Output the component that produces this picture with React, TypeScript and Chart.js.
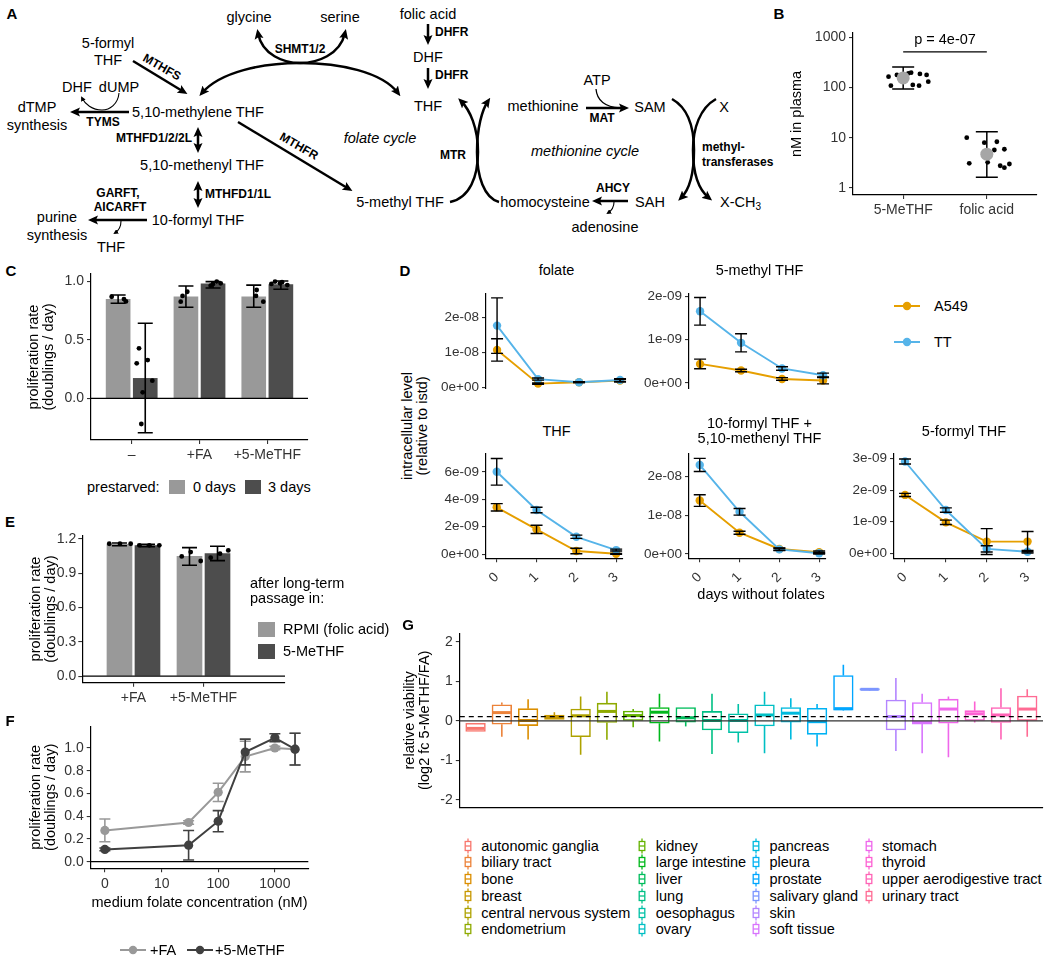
import React, { useEffect, useRef } from "react";
import { Chart, registerables } from "chart.js";

Chart.register(...registerables);

const FONT = "'Liberation Sans', Arial, Helvetica, sans-serif";
Chart.defaults.font.family = FONT;

/* ======================= DATA ======================= */
// Panel B
const bGroups = ["5-MeTHF", "folic acid"];
const bMeTHFValues = [163, 177, 190, 196, 185, 177, 108, 112, 108, 130];
const bMeTHFJitter = [-0.175, -0.075, 0.063, 0.095, 0.2, 0.28, -0.147, 0.115, 0.19, 0.3];
const bFolicValues = [10.0, 7.95, 8.3, 5.7, 5.9, 3.1, 3.24, 2.77, 2.54, 3.0];
const bFolicJitter = [-0.24, -0.03, 0.12, 0.09, 0.21, -0.21, 0.01, 0.16, 0.21, 0.27];
const bMean = [154, 4.7];
const bLower = [93, 1.63];
const bUpper = [254, 13.2];
const bYTicks = [1, 10, 100, 1000];
const bPLabel = "p = 4e-07";
const bSigLevel = 506;

// Panel C
const cGroups = ["\u2013", "+FA", "+5-MeTHF"];
const c0Mean = [0.848, 0.87, 0.87];
const c0Lower = [0.815, 0.78, 0.78];
const c0Upper = [0.885, 0.962, 0.97];
const c3Mean = [0.171, 0.98, 0.975];
const c3Lower = [-0.295, 0.945, 0.935];
const c3Upper = [0.643, 1.0, 1.005];
const c0PtGroup = [0, 0, 0, 1, 1, 1, 2, 2, 2];
const c0PtJitter = [-0.295, -0.114, -0.085, -0.25, -0.18, -0.277, -0.157, -0.167, -0.059];
const c0PtValue = [0.87, 0.85, 0.83, 0.877, 0.913, 0.828, 0.928, 0.877, 0.828];
const c3PtGroup = [0, 0, 0, 0, 0, 0, 1, 1, 1, 1, 2, 2, 2, 2, 2];
const c3PtJitter = [0.108, 0.074, 0.236, 0.304, 0.162, 0.142, 0.199, 0.254, 0.313, 0.165, 0.06, 0.114, 0.187, 0.295, 0.217];
const c3PtValue = [0.428, 0.3, 0.328, 0.151, 0.051, -0.22, 0.98, 1.0, 0.985, 0.965, 0.98, 1.0, 0.985, 0.97, 0.995];
const cYTicks = [0, 0.5, 1];

// Panel E
const eGroups = ["+FA", "+5-MeTHF"];
const eRpmiMean = [1.152, 1.046];
const eRpmiSd = [0.012, 0.077];
const eMeMean = [1.142, 1.072];
const eMeSd = [0.01, 0.063];
const eRpmiPtGroup = [0, 0, 0, 1, 1, 1];
const eRpmiPtJitter = [-0.346, -0.193, -0.04, -0.311, -0.183, -0.04];
const eRpmiPtValue = [1.157, 1.157, 1.157, 1.046, 1.084, 1.006];
const eMePtGroup = [0, 0, 0, 1, 1, 1];
const eMePtJitter = [0.083, 0.226, 0.369, 0.103, 0.236, 0.354];
const eMePtValue = [1.143, 1.143, 1.143, 1.035, 1.07, 1.099];
const eYTicks = [0, 0.3, 0.6, 0.9, 1.2];

// Panel F
const fConc = [0, 30, 100, 300, 1000, 2270];
const fFaMean = [0.275, 0.345, 0.61, 0.925, 1.0, 0.99];
const fFaSd = [0.1, 0.015, 0.08, 0.135, 0.015, 0.14];
const fMeMean = [0.108, 0.145, 0.356, 0.965, 1.09, 0.99];
const fMeSd = [0.012, 0.13, 0.093, 0.113, 0.035, 0.14];
const fXTicks = [0, 10, 100, 1000];
const fYTicks = [0, 0.2, 0.4, 0.6, 0.8, 1.0];

// Panel D
const dDays = [0, 1, 2, 3];
const dFolateA549 = [1.077e-8, 0.114e-8, 0.155e-8, 0.2e-8];
const dFolateA549Sd = [0.32e-8, 0.02e-8, 0.012e-8, 0.04e-8];
const dFolateTT = [1.775e-8, 0.243e-8, 0.155e-8, 0.217e-8];
const dFolateTTSd = [0.795e-8, 0.03e-8, 0.012e-8, 0.04e-8];
const dMethylA549 = [0.4375e-9, 0.285e-9, 0.09e-9, 0.056e-9];
const dMethylA549Sd = [0.11e-9, 0.03e-9, 0.03e-9, 0.08e-9];
const dMethylTT = [1.654e-9, 0.925e-9, 0.333e-9, 0.175e-9];
const dMethylTTSd = [0.32e-9, 0.21e-9, 0.04e-9, 0.05e-9];
const dThfA549 = [3.41e-9, 1.8e-9, 0.22e-9, 0.02e-9];
const dThfA549Sd = [0.27e-9, 0.3e-9, 0.2e-9, 0.03e-9];
const dThfTT = [6.0e-9, 3.21e-9, 1.26e-9, 0.29e-9];
const dThfTTSd = [0.97e-9, 0.2e-9, 0.12e-9, 0.07e-9];
const dFormylA549 = [1.38e-8, 0.55e-8, 0.13e-8, 0.05e-8];
const dFormylA549Sd = [0.15e-8, 0.04e-8, 0.03e-8, 0.03e-8];
const dFormylTT = [2.3e-8, 1.09e-8, 0.12e-8, 0.02e-8];
const dFormylTTSd = [0.17e-8, 0.085e-8, 0.03e-8, 0.02e-8];
const d5FormylA549 = [1.85e-9, 0.98e-9, 0.37e-9, 0.37e-9];
const d5FormylA549Sd = [0.05e-9, 0.07e-9, 0.41e-9, 0.32e-9];
const d5FormylTT = [2.91e-9, 1.37e-9, 0.14e-9, 0.05e-9];
const d5FormylTTSd = [0.08e-9, 0.07e-9, 0.1e-9, 0.04e-9];
const dFolateTicks = [0, 1e-8, 2e-8];
const dMethylTicks = [0, 1e-9, 2e-9];
const dThfTicks = [0, 2e-9, 4e-9, 6e-9];
const dFormylTicks = [0, 1e-8, 2e-8];
const d5FormylTicks = [0, 1e-9, 2e-9, 3e-9];
const dLines = ["A549", "TT"];

// Panel G
const gTissues = [
  "autonomic ganglia", "biliary tract", "bone", "breast", "central nervous system", "endometrium",
  "kidney", "large intestine", "liver", "lung", "oesophagus", "ovary",
  "pancreas", "pleura", "prostate", "salivary gland", "skin", "soft tissue",
  "stomach", "thyroid", "upper aerodigestive tract", "urinary tract",
];
const gMin = [-0.27, -0.4, -0.47, 0.04, -0.86, -0.48, -0.16, -0.52, -0.14, -0.84, -0.55, -0.82, -0.47, -0.65, 0.26, 0.77, -0.76, -0.82, -0.92, -0.04, -0.47, -0.4];
const gQ1 = [-0.27, -0.085, -0.12, 0.04, -0.4, -0.04, 0.01, -0.06, -0.03, -0.23, -0.3, -0.13, -0.03, -0.34, 0.27, 0.78, -0.23, -0.08, -0.06, 0.01, -0.04, 0.01];
const gMed = [-0.19, 0.21, 0.01, 0.11, 0.13, 0.24, 0.135, 0.22, 0.08, 0.01, 0.01, 0.15, 0.195, -0.02, 0.31, 0.8, 0.11, -0.04, 0.3, 0.18, 0.15, 0.3];
const gQ3 = [-0.06, 0.41, 0.31, 0.15, 0.3, 0.45, 0.25, 0.34, 0.34, 0.24, 0.18, 0.41, 0.34, 0.32, 1.15, 0.82, 0.53, 0.465, 0.55, 0.26, 0.34, 0.63];
const gMax = [-0.06, 0.465, 0.55, 0.22, 0.62, 0.74, 0.3, 0.685, 0.34, 0.685, 0.43, 0.74, 0.575, 0.43, 1.42, 0.83, 1.09, 0.685, 0.62, 0.49, 0.83, 0.8];
const gYTicks = [-2, -1, 0, 1, 2];
const gRefLevel = 0.11;

/* ======================= STYLE HELPERS ======================= */
const LIGHT = "#999999";
const DARK = "#4D4D4D";
const F_DARK = "#404040";
const ORANGE = "#E69F00";
const BLUE = "#56B4E9";
const TICK = "#333333";

function hcl(h: number, c = 100, l = 65) {
  const WY = 100;
  const Wu = 0.1978398, Wv = 0.4683363;
  const hr = (h * Math.PI) / 180;
  const U = c * Math.cos(hr), V = c * Math.sin(hr);
  const Y = WY * (l > 7.999592 ? Math.pow((l + 16) / 116, 3) : l / 903.3);
  const u = U / (13 * l) + Wu, v = V / (13 * l) + Wv;
  const X = (9 * Y * u) / (4 * v);
  const Z = -X / 3 - 5 * Y + (3 * Y) / v;
  const g = (t: number) => (t > 0.00304 ? 1.055 * Math.pow(t, 1 / 2.4) - 0.055 : 12.92 * t);
  const R = g((3.240479 * X - 1.53715 * Y - 0.498535 * Z) / WY);
  const G = g((-0.969256 * X + 1.875992 * Y + 0.041556 * Z) / WY);
  const B = g((0.055648 * X - 0.204043 * Y + 1.057311 * Z) / WY);
  const hx = (t: number) => Math.round(Math.max(0, Math.min(1, t)) * 255).toString(16).padStart(2, "0");
  return "#" + hx(R) + hx(G) + hx(B);
}
const gColors = gTissues.map((_, i) => hcl(15 + (360 / gTissues.length) * i));

function sci(v: number) {
  if (v === 0) return "0e+00";
  const e = Math.floor(Math.log10(Math.abs(v)) + 1e-9);
  const m = Math.round(v / Math.pow(10, e));
  return `${m}e${e < 0 ? "-" : "+"}${String(Math.abs(e)).padStart(2, "0")}`;
}
const plog = (v: number) => Math.asinh(v / 2) / Math.LN10;

type Box = { x: number; y: number; w: number; h: number };
type Area = { l: number; t: number; r: number; b: number };

function pads(box: Box, a: Area, xShown = true) {
  return { left: 0, top: a.t - box.y, right: box.x + box.w - a.r, bottom: xShown ? 0 : box.y + box.h - a.b };
}

function base(padding: any) {
  return {
    animation: false,
    responsive: false,
    maintainAspectRatio: false,
    events: [],
    layout: { padding },
    plugins: { legend: { display: false }, tooltip: { enabled: false }, title: { display: false } },
  };
}

function yScale(o: any) {
  return {
    type: o.type || "linear",
    position: "left",
    min: o.min,
    max: o.max,
    bounds: "data",
    offset: false,
    border: { display: true, color: "#000", width: 1.2 },
    grid: { display: true, drawOnChartArea: false, drawTicks: true, tickLength: 4, color: TICK, lineWidth: 1.1, offset: false },
    ticks: { color: TICK, font: { family: FONT, size: o.size || 14 }, padding: o.pad ?? 3, autoSkip: false, callback: (v: number) => o.fmt(v) },
    afterBuildTicks: (s: any) => { s.ticks = o.ticks.map((v: number) => ({ value: v })); },
    afterFit: (s: any) => { s.width = o.width; },
    title: o.title
      ? { display: true, text: o.title, color: "#000", font: { family: FONT, size: 14.5, lineHeight: 1.05 }, padding: { top: o.titlePad, bottom: 0 } }
      : { display: false },
  };
}

function xScale(o: any) {
  return {
    type: "linear",
    position: "bottom",
    display: o.display ?? true,
    min: o.min,
    max: o.max,
    bounds: "data",
    offset: false,
    border: { display: true, color: "#000", width: 1.2 },
    grid: { display: o.noTicks ? false : true, drawOnChartArea: false, drawTicks: true, tickLength: 4, color: TICK, lineWidth: 1.1, offset: false },
    ticks: {
      display: o.noTicks ? false : true,
      color: TICK,
      font: { family: FONT, size: o.size || 14 },
      padding: o.pad ?? 3,
      autoSkip: false,
      maxRotation: o.rot || 0,
      minRotation: o.rot || 0,
      callback: (v: number, i: number) => o.fmt(v, i),
    },
    afterBuildTicks: (s: any) => { s.ticks = o.ticks.map((v: number) => ({ value: v })); },
    afterFit: (s: any) => { s.height = o.height; },
    title: o.title
      ? { display: true, text: o.title, color: "#000", font: { family: FONT, size: 14.5, lineHeight: 1.05 }, padding: { top: 0, bottom: o.titlePad } }
      : { display: false },
  };
}

function errbar(ctx: any, x: number, y1: number, y2: number, cap: number, color: string, lw: number) {
  ctx.save();
  ctx.strokeStyle = color;
  ctx.lineWidth = lw;
  ctx.beginPath();
  ctx.moveTo(x, y1);
  ctx.lineTo(x, y2);
  ctx.moveTo(x - cap / 2, y1);
  ctx.lineTo(x + cap / 2, y1);
  ctx.moveTo(x - cap / 2, y2);
  ctx.lineTo(x + cap / 2, y2);
  ctx.stroke();
  ctx.restore();
}

function hline(chart: any, value: number, color: string, lw: number, dash: number[] = []) {
  const { ctx, chartArea, scales } = chart;
  const y = scales.y.getPixelForValue(value);
  ctx.save();
  ctx.strokeStyle = color;
  ctx.lineWidth = lw;
  ctx.setLineDash(dash);
  ctx.beginPath();
  ctx.moveTo(chartArea.left, y);
  ctx.lineTo(chartArea.right, y);
  ctx.stroke();
  ctx.restore();
}

/* ======================= LAYOUT ======================= */
const B_BOX: Box = { x: 785, y: 20, w: 265, h: 210 };
const B_AREA: Area = { l: 853, t: 33, r: 1037, b: 195 };
const C_BOX: Box = { x: 20, y: 262, w: 300, h: 203 };
const C_AREA: Area = { l: 91, t: 274, r: 308, b: 440 };
const E_BOX: Box = { x: 20, y: 525, w: 280, h: 195 };
const E_AREA: Area = { l: 82.3, t: 535, r: 285, b: 682.7 };
const F_BOX: Box = { x: 20, y: 715, w: 300, h: 210 };
const F_AREA: Area = { l: 90.7, t: 725, r: 308.3, b: 868.3 };
const G_BOX: Box = { x: 400, y: 620, w: 650, h: 200 };
const G_AREA: Area = { l: 459.8, t: 633.3, r: 1043, b: 807.3 };
const DODGE = 0.2;

/* ======================= CHART BUILDERS ======================= */
function buildB() {
  const box = B_BOX, area = B_AREA;
  const pts = [
    ...bMeTHFValues.map((v, i) => ({ x: 1 + bMeTHFJitter[i], y: v })),
    ...bFolicValues.map((v, i) => ({ x: 2 + bFolicJitter[i], y: v })),
  ];
  const means = bMean.map((v, i) => ({ x: i + 1, y: v }));
  return {
    type: "scatter",
    data: {
      datasets: [
        { data: pts, pointRadius: 2.4, pointBackgroundColor: "#000", pointBorderWidth: 0, order: 2 },
        { data: means, pointRadius: 6.5, pointBackgroundColor: "#A6A6A6", pointBorderWidth: 0, order: 1 },
      ],
    },
    options: {
      ...base(pads(box, area)),
      scales: {
        x: xScale({ min: 0.4, max: 2.6, ticks: [1, 2], fmt: (v: number) => bGroups[v - 1], height: box.y + box.h - area.b }),
        y: yScale({ type: "logarithmic", min: 0.726, max: 1206, ticks: bYTicks, fmt: (v: number) => String(v), width: area.l - box.x, title: "nM in plasma", titlePad: 4.4 }),
      },
    },
    plugins: [
      {
        id: "bExtras",
        beforeDatasetDraw(chart: any, args: any) {
          if (args.index !== 1) return;
          const { ctx, scales } = chart;
          bMean.forEach((_, i) =>
            errbar(ctx, scales.x.getPixelForValue(i + 1), scales.y.getPixelForValue(bUpper[i]), scales.y.getPixelForValue(bLower[i]), 22, "#000", 1.5)
          );
        },
        afterDatasetsDraw(chart: any) {
          const { ctx, scales } = chart;
          const yy = scales.y.getPixelForValue(bSigLevel);
          ctx.save();
          ctx.strokeStyle = "#000";
          ctx.lineWidth = 1.3;
          ctx.beginPath();
          ctx.moveTo(scales.x.getPixelForValue(1), yy);
          ctx.lineTo(scales.x.getPixelForValue(2), yy);
          ctx.stroke();
          ctx.fillStyle = "#000";
          ctx.font = `14.5px ${FONT}`;
          ctx.textAlign = "center";
          ctx.textBaseline = "middle";
          ctx.fillText(bPLabel, scales.x.getPixelForValue(1.5), yy - 12);
          ctx.restore();
        },
      },
    ],
  };
}

function barPanel(o: any) {
  const { box, area } = o;
  return {
    type: "bar",
    data: {
      datasets: [
        { type: "bar", data: o.meanA.map((v: number, i: number) => ({ x: i + 1 - DODGE, y: v })), backgroundColor: LIGHT, borderWidth: 0, barThickness: o.barW, grouped: false, order: 3 },
        { type: "bar", data: o.meanB.map((v: number, i: number) => ({ x: i + 1 + DODGE, y: v })), backgroundColor: DARK, borderWidth: 0, barThickness: o.barW, grouped: false, order: 3 },
        { type: "scatter", data: o.points, pointRadius: 2.4, pointBackgroundColor: "#000", pointBorderWidth: 0, order: 1 },
      ],
    },
    options: {
      ...base(pads(box, area)),
      scales: {
        x: xScale({ min: o.xmin, max: o.xmax, ticks: o.groups.map((_: any, i: number) => i + 1), fmt: (v: number) => o.groups[v - 1], height: box.y + box.h - area.b }),
        y: yScale({ min: o.ymin, max: o.ymax, ticks: o.yticks, fmt: (v: number) => v.toFixed(1), width: area.l - box.x, title: ["proliferation rate", "(doublings / day)"], titlePad: o.titlePad, pad: o.ypad }),
      },
    },
    plugins: [
      {
        id: "barExtras",
        beforeDatasetDraw(chart: any, args: any) {
          if (args.index !== 2) return;
          const { ctx, scales } = chart;
          hline(chart, 0, "#000", 1.2);
          o.meanA.forEach((_: number, i: number) => {
            errbar(ctx, scales.x.getPixelForValue(i + 1 - DODGE), scales.y.getPixelForValue(o.hiA[i]), scales.y.getPixelForValue(o.loA[i]), 15, "#000", 1.6);
            errbar(ctx, scales.x.getPixelForValue(i + 1 + DODGE), scales.y.getPixelForValue(o.hiB[i]), scales.y.getPixelForValue(o.loB[i]), 15, "#000", 1.6);
          });
        },
      },
    ],
  };
}

function buildC() {
  return barPanel({
    box: C_BOX, area: C_AREA, groups: cGroups, xmin: 0.4, xmax: 3.6, ymin: -0.357, ymax: 1.065, yticks: cYTicks, barW: 24, titlePad: 6.4,
    meanA: c0Mean, meanB: c3Mean, loA: c0Lower, hiA: c0Upper, loB: c3Lower, hiB: c3Upper,
    points: [
      ...c0PtValue.map((v, i) => ({ x: c0PtGroup[i] + 1 + c0PtJitter[i], y: v })),
      ...c3PtValue.map((v, i) => ({ x: c3PtGroup[i] + 1 + c3PtJitter[i], y: v })),
    ],
  });
}

function buildE() {
  return barPanel({
    box: E_BOX, area: E_AREA, groups: eGroups, xmin: 0.269, xmax: 3.164, ymin: -0.058, ymax: 1.23, yticks: eYTicks, barW: 25, titlePad: 8.4, ypad: 2,
    meanA: eRpmiMean, meanB: eMeMean,
    loA: eRpmiMean.map((m, i) => m - eRpmiSd[i]), hiA: eRpmiMean.map((m, i) => m + eRpmiSd[i]),
    loB: eMeMean.map((m, i) => m - eMeSd[i]), hiB: eMeMean.map((m, i) => m + eMeSd[i]),
    points: [
      ...eRpmiPtValue.map((v, i) => ({ x: eRpmiPtGroup[i] + 1 + eRpmiPtJitter[i], y: v })),
      ...eMePtValue.map((v, i) => ({ x: eMePtGroup[i] + 1 + eMePtJitter[i], y: v })),
    ],
  });
}

function buildF() {
  const box = F_BOX, area = F_AREA;
  const series = [
    { mean: fFaMean, sd: fFaSd, color: LIGHT },
    { mean: fMeMean, sd: fMeSd, color: F_DARK },
  ];
  return {
    type: "line",
    data: {
      datasets: series.map((s, k) => ({
        data: fConc.map((c, i) => ({ x: plog(c), y: s.mean[i] })),
        borderColor: s.color,
        backgroundColor: s.color,
        pointBackgroundColor: s.color,
        pointBorderWidth: 0,
        pointRadius: 4.6,
        borderWidth: 2,
        tension: 0,
        order: 1 - k,
      })),
    },
    options: {
      ...base(pads(box, area)),
      scales: {
        x: xScale({ min: -0.25, max: 3.59, ticks: fXTicks.map(plog), fmt: (_v: number, i: number) => String(fXTicks[i]), height: box.y + box.h - area.b, title: "medium folate concentration (nM)", titlePad: 14.4 }),
        y: yScale({ min: -0.058, max: 1.19, ticks: fYTicks, fmt: (v: number) => v.toFixed(1), width: area.l - box.x, title: ["proliferation rate", "(doublings / day)"], titlePad: 8.4 }),
      },
    },
    plugins: [
      {
        id: "fExtras",
        beforeDatasetsDraw(chart: any) { hline(chart, 0, "#000", 1.2); },
        afterDatasetDraw(chart: any, args: any) {
          const s = series[args.index];
          const { ctx, scales } = chart;
          fConc.forEach((c, i) =>
            errbar(ctx, scales.x.getPixelForValue(plog(c)), scales.y.getPixelForValue(s.mean[i] + s.sd[i]), scales.y.getPixelForValue(s.mean[i] - s.sd[i]), 11, s.color, 1.6)
          );
        },
      },
    ],
  };
}

const dFacets = [
  { a: dFolateA549, aSd: dFolateA549Sd, t: dFolateTT, tSd: dFolateTTSd, ticks: dFolateTicks, min: -0.04e-8, max: 2.7e-8, box: { x: 430, y: 280, w: 205, h: 130 }, area: { l: 486, t: 293.3, r: 627, b: 399.5 }, showX: false },
  { a: dMethylA549, aSd: dMethylA549Sd, t: dMethylTT, tSd: dMethylTTSd, ticks: dMethylTicks, min: -0.142e-9, max: 2.07e-9, box: { x: 633, y: 280, w: 205, h: 130 }, area: { l: 689, t: 293.3, r: 830, b: 399.5 }, showX: false },
  { a: dThfA549, aSd: dThfA549Sd, t: dThfTT, tSd: dThfTTSd, ticks: dThfTicks, min: -0.31e-9, max: 7.35e-9, box: { x: 430, y: 440, w: 205, h: 150 }, area: { l: 486, t: 453.3, r: 627, b: 558.3 }, showX: true },
  { a: dFormylA549, aSd: dFormylA549Sd, t: dFormylTT, tSd: dFormylTTSd, ticks: dFormylTicks, min: -0.11e-8, max: 2.6e-8, box: { x: 633, y: 440, w: 205, h: 150 }, area: { l: 689, t: 453.3, r: 830, b: 558.3 }, showX: true },
  { a: d5FormylA549, aSd: d5FormylA549Sd, t: d5FormylTT, tSd: d5FormylTTSd, ticks: d5FormylTicks, min: -0.16e-9, max: 3.17e-9, box: { x: 838, y: 440, w: 212, h: 150 }, area: { l: 894, t: 453.3, r: 1034.5, b: 558.3 }, showX: true },
];

function buildD(f: any) {
  const box = f.box, area = f.area;
  const series = [
    { mean: f.a, sd: f.aSd, color: ORANGE, order: 1 },
    { mean: f.t, sd: f.tSd, color: BLUE, order: 0 },
  ];
  return {
    type: "line",
    data: {
      datasets: series.map((s) => ({
        data: dDays.map((d, i) => ({ x: d, y: s.mean[i] })),
        borderColor: s.color,
        backgroundColor: s.color,
        pointBackgroundColor: s.color,
        pointBorderWidth: 0,
        pointRadius: 4.2,
        borderWidth: 1.9,
        tension: 0,
        order: s.order,
      })),
    },
    options: {
      ...base(pads(box, area, f.showX)),
      scales: {
        x: xScale({ display: f.showX, min: -0.27, max: 3.17, ticks: dDays, fmt: (v: number) => String(v), height: box.y + box.h - area.b, rot: 45, pad: 7, size: 13.5 }),
        y: yScale({ min: f.min, max: f.max, ticks: f.ticks, fmt: sci, width: area.l - box.x, size: 13.5 }),
      },
    },
    plugins: [
      {
        id: "dExtras",
        afterDatasetsDraw(chart: any) {
          const { ctx, scales } = chart;
          series.forEach((s) =>
            dDays.forEach((d, i) =>
              errbar(ctx, scales.x.getPixelForValue(d), scales.y.getPixelForValue(s.mean[i] + s.sd[i]), scales.y.getPixelForValue(s.mean[i] - s.sd[i]), 12, "#000", 1.4)
            )
          );
        },
      },
    ],
  };
}

function buildG() {
  const box = G_BOX, area = G_AREA;
  const boxW = 19.7;
  return {
    type: "bar",
    data: {
      datasets: [
        {
          data: gTissues.map((_, i) => ({ x: i + 1, y: [gQ1[i], gQ3[i]] })),
          backgroundColor: "rgba(255,255,255,1)",
          borderColor: gColors,
          borderWidth: 1.6,
          borderSkipped: false,
          barThickness: boxW,
          grouped: false,
        },
      ],
    },
    options: {
      ...base(pads(box, area)),
      scales: {
        x: xScale({ min: 0.4, max: 22.6, ticks: [], fmt: () => "", height: box.y + box.h - area.b, noTicks: true }),
        y: yScale({ min: -2.19, max: 2.22, ticks: gYTicks, fmt: (v: number) => String(v), width: area.l - box.x, title: ["relative viability", "(log2 fc 5-MeTHF/FA)"], titlePad: 2.4 }),
      },
    },
    plugins: [
      {
        id: "gExtras",
        afterDatasetsDraw(chart: any) {
          const { ctx, scales } = chart;
          gTissues.forEach((_, i) => {
            const x = scales.x.getPixelForValue(i + 1);
            ctx.save();
            ctx.strokeStyle = gColors[i];
            ctx.lineWidth = 1.6;
            ctx.beginPath();
            ctx.moveTo(x, scales.y.getPixelForValue(gQ3[i]));
            ctx.lineTo(x, scales.y.getPixelForValue(gMax[i]));
            ctx.moveTo(x, scales.y.getPixelForValue(gQ1[i]));
            ctx.lineTo(x, scales.y.getPixelForValue(gMin[i]));
            ctx.stroke();
            ctx.lineWidth = 3;
            ctx.beginPath();
            const ym = scales.y.getPixelForValue(gMed[i]);
            ctx.moveTo(x - boxW / 2 + 0.8, ym);
            ctx.lineTo(x + boxW / 2 - 0.8, ym);
            ctx.stroke();
            ctx.restore();
          });
          hline(chart, 0, "#333", 1.3);
          hline(chart, gRefLevel, "#000", 1.2, [5, 4]);
        },
      },
    ],
  };
}

/* ======================= COMPONENTS ======================= */
function ChartCanvas({ box, build }: { box: Box; build: () => any }) {
  const ref = useRef<HTMLCanvasElement>(null);
  useEffect(() => {
    const chart = new Chart(ref.current as any, build());
    return () => chart.destroy();
  }, []);
  return (
    <canvas
      ref={ref}
      width={box.w}
      height={box.h}
      style={{ position: "absolute", left: box.x, top: box.y, width: box.w, height: box.h }}
    />
  );
}

function Label({ x, y, children, size = 14.5, align = "center", bold = false, italic = false }: any) {
  const tx = align === "center" ? "-50%" : align === "right" ? "-100%" : "0%";
  return (
    <div
      style={{
        position: "absolute",
        left: x,
        top: y,
        transform: `translate(${tx}, -50%)`,
        whiteSpace: "nowrap",
        fontSize: size,
        fontWeight: bold ? 700 : 400,
        fontStyle: italic ? "italic" : "normal",
        lineHeight: 1,
        fontFamily: FONT,
        color: "#000",
      }}
    >
      {children}
    </div>
  );
}

function LineKey({ x, y, color }: any) {
  return (
    <svg width={26} height={12} style={{ position: "absolute", left: x, top: y - 6 }}>
      <line x1={0} y1={6} x2={26} y2={6} stroke={color} strokeWidth={2} />
      <circle cx={13} cy={6} r={4.2} fill={color} />
    </svg>
  );
}

function BoxKey({ x, y, color }: any) {
  return (
    <svg width={8} height={16} style={{ position: "absolute", left: x - 4, top: y - 8 }}>
      <line x1={4} y1={0.5} x2={4} y2={15.5} stroke={color} strokeWidth={1.3} />
      <rect x={1.2} y={3.5} width={5.6} height={9} fill="#fff" stroke={color} strokeWidth={1.3} />
      <line x1={1.2} y1={8} x2={6.8} y2={8} stroke={color} strokeWidth={1.3} />
    </svg>
  );
}

function PanelA() {
  const T = (x: number, y: number, s: any, extra: any = {}) => (
    <text x={x} y={y} textAnchor="middle" dominantBaseline="central" fontSize={14.5} {...extra}>{s}</text>
  );
  const Bd = (x: number, y: number, s: string, anchor = "middle", rot = 0) => (
    <text
      x={rot ? 0 : x}
      y={rot ? 0 : y}
      transform={rot ? `translate(${x},${y}) rotate(${rot})` : undefined}
      textAnchor={anchor}
      dominantBaseline="central"
      fontSize={12}
      fontWeight="bold"
    >
      {s}
    </text>
  );
  const thick = { fill: "none", stroke: "#000", strokeWidth: 2.5 };
  const thin = { fill: "none", stroke: "#000", strokeWidth: 1.1 };
  return (
    <svg width={800} height={262} style={{ position: "absolute", left: 0, top: 0 }} fontFamily={FONT}>
      <defs>
        <marker id="ah" viewBox="0 0 10 10" refX="6" refY="5" markerWidth="10" markerHeight="10" markerUnits="userSpaceOnUse" orient="auto-start-reverse">
          <path d="M0,0.5 L10,5 L0,9.5 L2,5 z" fill="#000" />
        </marker>
        <marker id="as" viewBox="0 0 10 10" refX="6" refY="5" markerWidth="5" markerHeight="5" markerUnits="userSpaceOnUse" orient="auto-start-reverse">
          <path d="M0,0 L10,5 L0,10 z" fill="#000" />
        </marker>
      </defs>
      {/* arrows */}
      <path d="M258,33 C262,55 284,63 300,63 C317,63 340,55 345,33" {...thick} markerStart="url(#ah)" markerEnd="url(#ah)" />
      <path d="M202,93 C220,72 262,63 300,63 C340,63 382,72 398,93" {...thick} markerStart="url(#ah)" markerEnd="url(#ah)" />
      <path d="M133,61 L184,92" {...thick} markerEnd="url(#ah)" />
      <path d="M129,112 L74,112" {...thick} markerEnd="url(#ah)" />
      <path d="M119,93 C118,104 110,110 102,110 C92,110 85,104 82,98" {...thin} markerEnd="url(#as)" />
      <path d="M198,131 L198,149" {...thick} markerStart="url(#ah)" markerEnd="url(#ah)" />
      <path d="M198,185 L198,204" {...thick} markerStart="url(#ah)" markerEnd="url(#ah)" />
      <path d="M147,220 L92,220" {...thick} markerEnd="url(#ah)" />
      <path d="M121,221 C121,227 118,231 115,233" {...thin} markerEnd="url(#as)" />
      <path d="M238,122 L349,189" {...thick} markerEnd="url(#ah)" />
      <path d="M428,24 L428,41" {...thick} markerEnd="url(#ah)" />
      <path d="M428,68 L428,85" {...thick} markerEnd="url(#ah)" />
      <path d="M450,202 C470,198 478,176 478,152 C478,128 470,110 461,101" {...thick} markerEnd="url(#ah)" />
      <path d="M499,202 C484,198 477,176 477,152 C477,128 482,110 488,101" {...thick} markerEnd="url(#ah)" />
      <path d="M586,108 L625,108" {...thick} markerEnd="url(#ah)" />
      <path d="M596,89 C597,101 606,107 620,108" {...thin} strokeWidth={1.3} />
      <path d="M672,99 C688,108 694,128 694,150 C694,174 689,190 681,198" {...thick} markerEnd="url(#ah)" />
      <path d="M716,99 C700,108 693,128 693,150 C693,174 699,190 709,198" {...thick} markerEnd="url(#ah)" />
      <path d="M628,201 L596,201" {...thick} markerEnd="url(#ah)" />
      <path d="M614,202 C614,208 611,211 608,213" {...thin} markerEnd="url(#as)" />
      {/* texts */}
      {T(249, 17, "glycine")}
      {T(340, 17, "serine")}
      {Bd(300, 49, "SHMT1/2")}
      {T(108, 43, "5-formyl")}
      {T(108, 60, "THF")}
      {Bd(162, 67, "MTHFS", "middle", 30)}
      {T(77, 87, "DHF")}
      {T(119, 87, "dUMP")}
      {T(37, 107, "dTMP")}
      {T(37, 125, "synthesis")}
      {Bd(103, 122, "TYMS")}
      {T(198, 112, "5,10-methylene THF")}
      {Bd(192, 138, "MTHFD1/2/2L", "end")}
      {T(202, 165, "5,10-methenyl THF")}
      {Bd(205, 194, "MTHFD1/1L", "start")}
      {Bd(118, 193, "GARFT,")}
      {Bd(120, 207, "AICARFT")}
      {T(198, 220, "10-formyl THF")}
      {T(57, 217, "purine")}
      {T(57, 235, "synthesis")}
      {T(111, 247, "THF")}
      {Bd(299, 146, "MTHFR", "middle", 30)}
      {T(380, 138, "folate cycle", { fontStyle: "italic" })}
      {T(400, 202, "5-methyl THF")}
      {T(428, 14, "folic acid")}
      {Bd(435, 32, "DHFR", "start")}
      {T(428, 57, "DHF")}
      {Bd(435, 75, "DHFR", "start")}
      {T(428, 106, "THF")}
      {Bd(453, 155, "MTR")}
      {T(543, 106, "methionine")}
      {T(597, 80, "ATP")}
      {Bd(602, 118, "MAT")}
      {T(650, 107, "SAM")}
      {T(724, 107, "X")}
      {Bd(702, 147, "methyl-", "start")}
      {Bd(702, 162, "transferases", "start")}
      {T(585, 151, "methionine cycle", { fontStyle: "italic" })}
      <text x={720} y={202} textAnchor="start" dominantBaseline="central" fontSize={14.5}>
        X-CH<tspan fontSize={10} dy={4}>3</tspan>
      </text>
      {T(650, 202, "SAH")}
      {Bd(613, 188, "AHCY")}
      {T(545, 202, "homocysteine")}
      {T(605, 227, "adenosine")}
    </svg>
  );
}

const gLegendCols = [467.7, 642.3, 756, 868.5];

export default function App() {
  return (
    <div
      style={{
        position: "absolute",
        left: 0,
        top: 0,
        width: 1050,
        height: 963,
        background: "#fff",
        overflow: "hidden",
        fontFamily: FONT,
        color: "#000",
      }}
    >
      <PanelA />
      <ChartCanvas box={B_BOX} build={buildB} />
      <ChartCanvas box={C_BOX} build={buildC} />
      <ChartCanvas box={E_BOX} build={buildE} />
      <ChartCanvas box={F_BOX} build={buildF} />
      {dFacets.map((f, i) => (
        <ChartCanvas key={i} box={f.box} build={() => buildD(f)} />
      ))}
      <ChartCanvas box={G_BOX} build={buildG} />

      {/* panel letters */}
      <Label x={12} y={13} bold size={15}>A</Label>
      <Label x={779} y={13} bold size={15}>B</Label>
      <Label x={11} y={270} bold size={15}>C</Label>
      <Label x={405} y={270} bold size={15}>D</Label>
      <Label x={10} y={521} bold size={15}>E</Label>
      <Label x={10} y={720} bold size={15}>F</Label>
      <Label x={408} y={624} bold size={15}>G</Label>

      {/* C legend */}
      <Label x={87} y={487} align="left">prestarved:</Label>
      <div style={{ position: "absolute", left: 169, top: 480, width: 16, height: 14, background: LIGHT }} />
      <Label x={193} y={487} align="left">0 days</Label>
      <div style={{ position: "absolute", left: 245, top: 480, width: 16, height: 14, background: DARK }} />
      <Label x={268} y={487} align="left">3 days</Label>

      {/* E legend */}
      <Label x={250} y={583} align="left">after long-term</Label>
      <Label x={250} y={598} align="left">passage in:</Label>
      <div style={{ position: "absolute", left: 258, top: 622, width: 17, height: 15, background: LIGHT }} />
      <Label x={283} y={629} align="left">RPMI (folic acid)</Label>
      <div style={{ position: "absolute", left: 258, top: 643.5, width: 17, height: 15, background: DARK }} />
      <Label x={283} y={651} align="left">5-MeTHF</Label>

      {/* F legend */}
      <LineKey x={120} y={950} color={LIGHT} />
      <Label x={150} y={950} align="left">+FA</Label>
      <LineKey x={187} y={950} color={F_DARK} />
      <Label x={215} y={950} align="left">+5-MeTHF</Label>

      {/* D facet titles, axes and legend */}
      <Label x={556.5} y={270}>folate</Label>
      <Label x={759.5} y={270}>5-methyl THF</Label>
      <Label x={556.5} y={430.7}>THF</Label>
      <Label x={759.5} y={423.3}>10-formyl THF +</Label>
      <Label x={759.5} y={438.3}>5,10-methenyl THF</Label>
      <Label x={964} y={430.7}>5-formyl THF</Label>
      <Label x={761} y={594}>days without folates</Label>
      <div
        style={{
          position: "absolute",
          left: 414.5,
          top: 425.7,
          transform: "translate(-50%, -50%) rotate(-90deg)",
          whiteSpace: "nowrap",
          fontSize: 14.5,
          lineHeight: "15.2px",
          textAlign: "center",
          fontFamily: FONT,
        }}
      >
        <div>intracellular level</div>
        <div>(relative to istd)</div>
      </div>
      {dLines.map((name, i) => (
        <React.Fragment key={name}>
          <LineKey x={894} y={306 + i * 36} color={i === 0 ? ORANGE : BLUE} />
          <Label x={934} y={306 + i * 36} align="left">{name}</Label>
        </React.Fragment>
      ))}

      {/* G legend */}
      {gTissues.map((name, i) => {
        const col = Math.floor(i / 6);
        const row = i % 6;
        const y = 845.7 + row * 16.7;
        return (
          <React.Fragment key={name}>
            <BoxKey x={gLegendCols[col]} y={y} color={gColors[i]} />
            <Label x={gLegendCols[col] + 13.5} y={y} align="left">{name}</Label>
          </React.Fragment>
        );
      })}
    </div>
  );
}
